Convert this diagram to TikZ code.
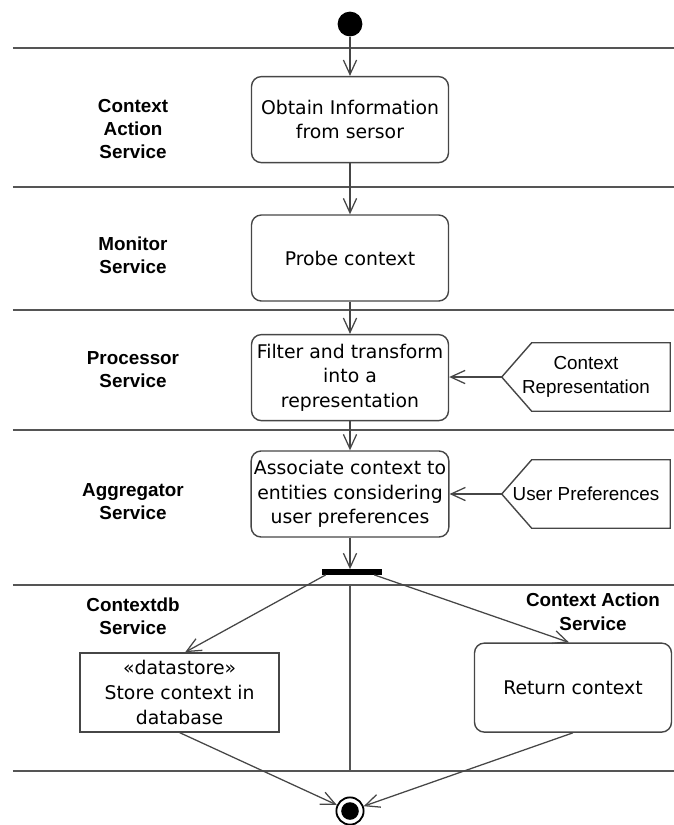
\documentclass[tikz,border=0pt]{standalone}
\usepackage{fontspec}
\setmainfont{DejaVu Sans}
\newfontfamily\lanefont{Liberation Sans}
\usetikzlibrary{arrows.meta}
\definecolor{laneGrey}{RGB}{85,85,85}
\definecolor{boxGrey}{RGB}{70,70,70}

\begin{document}
\begin{tikzpicture}[>={Straight Barb[length=3.6mm,width=3.3mm]},
  lanelbl/.style={align=center, font=\lanefont\bfseries\fontsize{13.4}{16.7}\selectfont},
  action/.style={rounded corners=7pt, draw=boxGrey, line width=1pt, align=center,
     minimum width=4.925cm, minimum height=2.15cm, inner sep=2pt, font=\fontsize{13.4}{17.5}\selectfont},
  store/.style={draw=boxGrey, line width=1pt, align=center,
     minimum width=4.975cm, minimum height=1.975cm, inner sep=2pt, font=\fontsize{13.4}{17.5}\selectfont},
  objbox/.style={align=center, minimum width=4.2cm, minimum height=1.7cm, inner sep=0pt,
     font=\lanefont\fontsize{13.4}{16.7}\selectfont},
  objline/.style={draw=boxGrey, line width=1pt},
  flow/.style={->, line width=0.9pt, boxGrey},
  lane/.style={line width=1.3pt, laneGrey}]
  \useasboundingbox (0,0) rectangle (16.85,-20.625);
  % swimlanes
  \foreach \y in {-1.2,-4.675,-7.75,-10.75,-14.625,-19.275}
    \draw[lane] (0.325,\y) -- (16.85,\y);
  \draw[lane] (8.75,-14.625) -- (8.75,-19.275);
  % lane names
  \node[lanelbl] (lcas)  at (3.325,-3.225) {Context\\Action\\Service};
  \node[lanelbl] (lmon)  at (3.325,-6.375) {Monitor\\Service};
  \node[lanelbl] (lproc) at (3.325,-9.24)  {Processor\\Service};
  \node[lanelbl] (lagg)  at (3.325,-12.54) {Aggregator\\Service};
  \node[lanelbl] (ldb)   at (3.325,-15.4)  {Contextdb\\Service};
  \node[lanelbl] (lret)  at (14.825,-15.29) {Context Action\\Service};
  % activities
  \node[circle, fill=black, minimum size=0.62cm, inner sep=0] (start) at (8.75,-0.6) {};
  \node[action] (obtain) at (8.75,-2.99)  {Obtain Information\\from sersor};
  \node[action] (probe)  at (8.75,-6.45)  {Probe context};
  \node[action] (filter) at (8.75,-9.44)  {Filter and transform\\into a\\representation};
  \node[action] (assoc)  at (8.75,-12.35) {Associate context to\\entities considering\\user preferences};
  \node[fill=black, minimum width=1.5cm, minimum height=0.13cm, inner sep=0] (fork) at (8.8,-14.3) {};
  \node[store] (store) at (4.49,-17.31) {«datastore»\\Store context in\\database};
  \node[action, minimum height=2.225cm] (ret) at (14.325,-17.19) {Return context};
  \node[circle, draw=black, line width=1.3pt, minimum size=0.68cm, inner sep=0,
    path picture={\fill[black] (path picture bounding box.center) circle (0.22cm);}] (stop) at (8.75,-20.275) {};
  % object nodes
  \node[objbox] (crep)  at (14.65,-9.425) {Context\\Representation};
  \node[objbox] (upref) at (14.65,-12.35) {User Preferences};
  \foreach \o in {crep,upref}
    \draw[objline] (\o.north east) -- ([xshift=0.75cm]\o.north west) -- (\o.west)
      -- ([xshift=0.75cm]\o.south west) -- (\o.south east) -- cycle;
  % flows
  \draw[flow] (start) -- (obtain);
  \draw[flow] (obtain) -- (probe);
  \draw[flow] (probe) -- (filter);
  \draw[flow] (filter) -- (assoc);
  \draw[flow] (assoc.south) -- (assoc.south |- fork.north);
  \draw[flow] ([xshift=1mm]fork.south west) -- ([xshift=1.4mm]store.north);
  \draw[flow] ([xshift=-2mm]fork.south east) -- ([xshift=-1mm]ret.north);
  \draw[flow] (store.south) -- (stop);
  \draw[flow] (ret.south) -- (stop);
  \draw[flow] (crep.west) -- (filter.east |- crep.west);
  \draw[flow] (upref.west) -- (assoc.east);
\end{tikzpicture}
\end{document}
